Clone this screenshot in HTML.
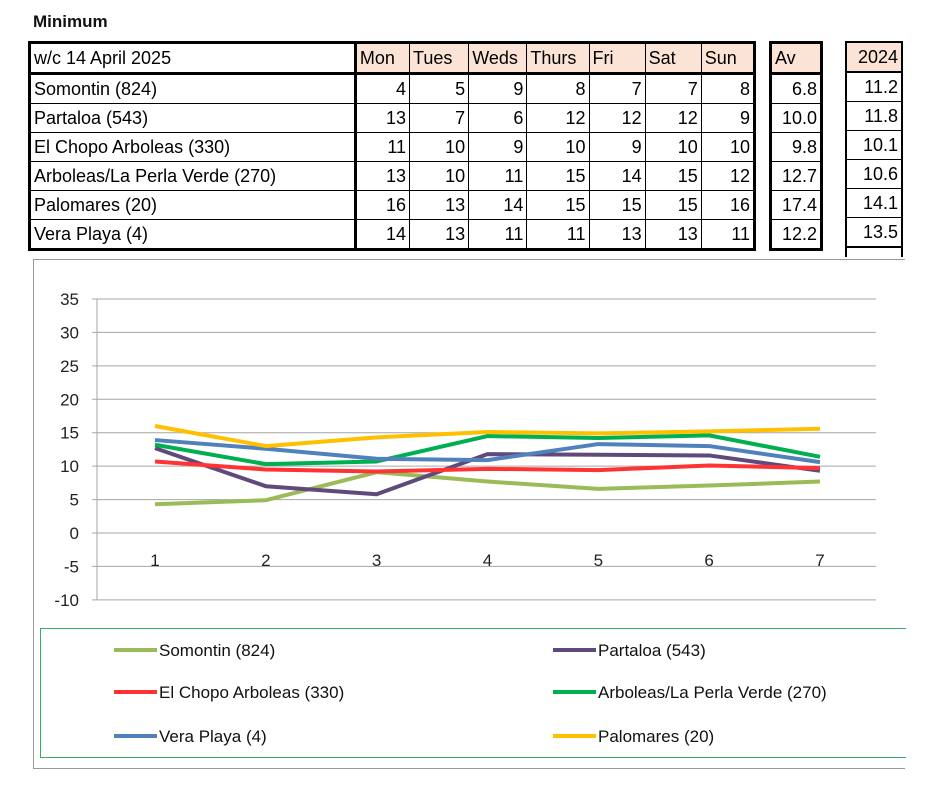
<!DOCTYPE html>
<html><head><meta charset="utf-8">
<style>
body{margin:0;width:930px;height:800px;background:#fff;font-family:"Liberation Sans Narrow","Liberation Sans",sans-serif;position:relative;overflow:hidden}
.t{position:absolute;font-size:18px;color:#111}
table{border-collapse:collapse;position:absolute}
td{border:1px solid #000;padding:0 3px;font-size:18px;height:28px;line-height:28px;white-space:nowrap;text-align:right;box-sizing:border-box}
td.h{background:#fbe4d5;text-align:left}
td.n{text-align:left}
</style></head><body>
<div class="t" style="left:33px;top:12px;font-weight:bold;font-family:'Liberation Sans',sans-serif;font-size:17px">Minimum</div>

<table style="left:28px;top:41px;border:3px solid #000;width:728px">
<colgroup><col style="width:325px"><col style="width:54px"><col style="width:59px"><col style="width:58px"><col style="width:62px"><col style="width:56px"><col style="width:56px"><col style="width:53px"></colgroup>
<tr style="border-bottom:3px solid #000"><td class="n" style="border-right:3px solid #000;height:29px">w/c 14 April  2025</td><td class="h">Mon</td><td class="h">Tues</td><td class="h">Weds</td><td class="h">Thurs</td><td class="h">Fri</td><td class="h">Sat</td><td class="h">Sun</td></tr>
<tr><td class="n" style="border-right:3px solid #000">Somontin (824)</td><td>4</td><td>5</td><td>9</td><td>8</td><td>7</td><td>7</td><td>8</td></tr>
<tr><td class="n" style="border-right:3px solid #000">Partaloa (543)</td><td>13</td><td>7</td><td>6</td><td>12</td><td>12</td><td>12</td><td>9</td></tr>
<tr><td class="n" style="border-right:3px solid #000">El Chopo Arboleas (330)</td><td>11</td><td>10</td><td>9</td><td>10</td><td>9</td><td>10</td><td>10</td></tr>
<tr><td class="n" style="border-right:3px solid #000">Arboleas/La Perla Verde (270)</td><td>13</td><td>10</td><td>11</td><td>15</td><td>14</td><td>15</td><td>12</td></tr>
<tr><td class="n" style="border-right:3px solid #000">Palomares (20)</td><td>16</td><td>13</td><td>14</td><td>15</td><td>15</td><td>15</td><td>16</td></tr>
<tr><td class="n" style="border-right:3px solid #000">Vera Playa (4)</td><td>14</td><td>13</td><td>11</td><td>11</td><td>13</td><td>13</td><td>11</td></tr>
</table>

<table style="left:769px;top:41px;border:3px solid #000;width:54px">
<tr style="border-bottom:3px solid #000"><td class="h" style="height:29px">Av</td></tr>
<tr><td>6.8</td></tr><tr><td>10.0</td></tr><tr><td>9.8</td></tr><tr><td>12.7</td></tr><tr><td>17.4</td></tr><tr><td>12.2</td></tr>
</table>

<table style="left:845px;top:41px;border:2px solid #000;border-bottom:none;width:58px">
<tr style="border-bottom:2px solid #000"><td class="h" style="text-align:right;height:30px">2024</td></tr>
<tr><td>11.2</td></tr><tr><td>11.8</td></tr><tr><td>10.1</td></tr><tr><td>10.6</td></tr><tr><td>14.1</td></tr><tr><td>13.5</td></tr>
<tr style="border-top:2px solid #000"><td style="height:10px;border-bottom:none"></td></tr>
</table>

<div style="position:absolute;left:33px;top:259px;width:872px;height:510px;border:1px solid #999;border-right:none;box-sizing:border-box"></div>
<div style="position:absolute;left:40px;top:628px;width:866px;height:130px;border:1.5px solid #3aaa6a;border-right:none;box-sizing:border-box"></div>

<svg id="chart" width="930" height="800" style="position:absolute;left:0;top:0" font-family="Liberation Sans Narrow, Liberation Sans, sans-serif"></svg>

<script>
const categories=[1,2,3,4,5,6,7];
const yTicks=[35,30,25,20,15,10,5,0,-5,-10];
const seriesNames=["Somontin (824)","Partaloa (543)","El Chopo Arboleas (330)","Arboleas/La Perla Verde (270)","Vera Playa (4)","Palomares (20)"];
const somontin=[4.3,4.9,9.1,7.7,6.6,7.1,7.7];
const partaloa=[12.7,7.0,5.8,11.8,11.7,11.6,9.3];
const elChopo=[10.7,9.5,9.2,9.6,9.4,10.1,9.7];
const arboleas=[13.2,10.3,10.7,14.5,14.2,14.6,11.4];
const veraPlaya=[13.9,12.6,11.1,10.9,13.3,13.0,10.6];
const palomares=[16.0,13.0,14.3,15.1,14.9,15.2,15.6];

const svg=document.getElementById('chart');
const NS='http://www.w3.org/2000/svg';
const x=v=>155+(v-1)*110.83;
const y=v=>533-v*6.686;
function mk(tag,attrs){const e=document.createElementNS(NS,tag);for(const k in attrs)e.setAttribute(k,attrs[k]);svg.appendChild(e);return e;}

yTicks.forEach(t=>{
  const g=mk('line',{x1:92,x2:876,y1:y(t),y2:y(t),stroke:'#a6a6a6','stroke-width':1});
  
  
  const l=mk('text',{x:79,y:y(t)+6,'text-anchor':'end','font-size':17,fill:'#222'});
  l.textContent=t;
  
  
});
const ax=mk('line',{x1:97,x2:97,y1:y(35),y2:y(-10),stroke:'#a6a6a6','stroke-width':1});


categories.forEach(c=>{
  const l=mk('text',{x:x(c),y:566,'text-anchor':'middle','font-size':17,fill:'#222'});
  l.textContent=c;
  
  
});
const data=[somontin,partaloa,elChopo,arboleas,veraPlaya,palomares];
const colors=['#9bbb59','#604a7b','#ff3333','#00b050','#4f81bd','#ffc000'];
const drawOrder=[0,1,3,2,4,5];
drawOrder.forEach(i=>{
  const p=mk('polyline',{points:data[i].map((v,j)=>x(categories[j])+','+y(v)).join(' '),fill:'none',stroke:colors[i],'stroke-width':4,'stroke-linejoin':'round'});
  
  
});
const legPos=[[114,650],[553,650],[114,692],[553,692],[114,736],[553,736]];
seriesNames.forEach((n,i)=>{
  const [lx,ly]=legPos[i];
  const ln=mk('line',{x1:lx,x2:lx+43,y1:ly,y2:ly,stroke:colors[i],'stroke-width':4});
  
  
  const t=mk('text',{x:lx+45,y:ly+6,'font-size':17,fill:'#111'});
  t.textContent=n;
  
  
});
</script>
</body></html>
